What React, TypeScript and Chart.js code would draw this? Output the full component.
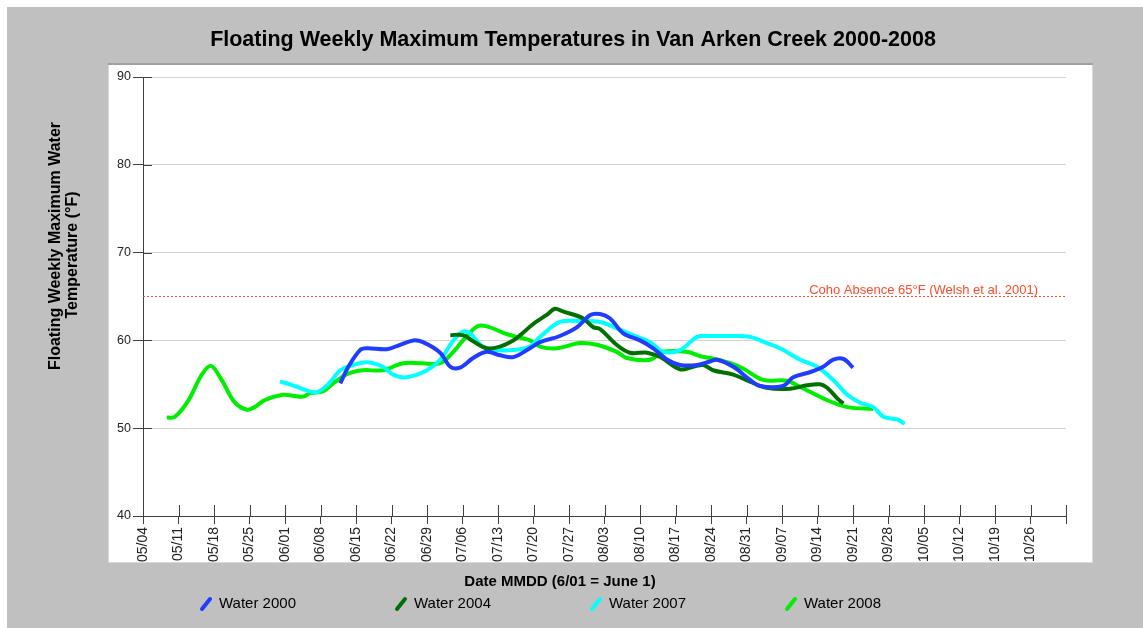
import React, { useEffect, useRef } from 'react';
import { Chart, registerables } from 'chart.js';

Chart.register(...registerables);

const W = 1143;
const H = 628;

const xTickLabels = ['05/04', '05/11', '05/18', '05/25', '06/01', '06/08', '06/15', '06/22', '06/29', '07/06', '07/13', '07/20', '07/27', '08/03', '08/10', '08/17', '08/24', '08/31', '09/07', '09/14', '09/21', '09/28', '10/05', '10/12', '10/19', '10/26'];

// x values = days after 05/04
const days2000 = [38.9, 40.5, 42.8, 44.2, 48.1, 50.7, 53.3, 55.2, 58.6, 60.6, 62.5, 65.1, 67.8, 70.4, 73, 76.3, 78.3, 82.2, 85.6, 88.2, 90.1, 92.1, 94.7, 98, 100.6, 103.4, 105.9, 109.3, 111.8, 113.2, 116.4, 119.7, 121.7, 126.2, 128.2, 131.6, 134.1, 136.1, 138.1, 140];
const temps2000 = [55.1, 57.0, 58.9, 59.1, 59.0, 59.5, 60.0, 59.8, 58.6, 57.0, 56.9, 58.0, 58.7, 58.3, 58.1, 59.1, 59.8, 60.5, 61.5, 62.9, 63.0, 62.5, 60.8, 60.0, 59.1, 57.8, 57.2, 57.2, 57.6, 57.8, 57.0, 55.5, 54.8, 54.8, 55.8, 56.4, 57.0, 57.8, 57.9, 56.9];

const days2004 = [60.6, 63.1, 65.1, 67.8, 70.4, 73, 74.4, 77, 79.6, 81.2, 82.8, 86.8, 88.8, 90.1, 93.4, 96, 99.4, 102, 105.9, 108.5, 110.5, 112.4, 116.4, 119.7, 123, 127.6, 131, 133.5, 134.9, 136.9, 138.1];
const temps2004 = [60.6, 60.6, 59.9, 59.1, 59.3, 60.0, 60.6, 61.9, 62.9, 63.6, 63.3, 62.5, 61.5, 61.3, 59.5, 58.6, 58.6, 58.1, 56.7, 57.0, 57.2, 56.6, 56.1, 55.3, 54.6, 54.5, 54.9, 55.0, 54.6, 53.4, 52.8];

const days2007 = [27, 29, 32.3, 34.3, 36.5, 38.9, 41.5, 44.2, 47.3, 49.3, 52, 56, 58.6, 61.2, 63.1, 64.5, 67, 69.8, 73, 76.3, 78.3, 82.2, 86.2, 90.1, 93.4, 96.6, 100, 102.6, 105.9, 109.3, 111.8, 116.4, 119.7, 123, 125.6, 129.6, 132.9, 136.1, 138.9, 141.4, 144, 146, 148.7, 150.2];
const temps2007 = [55.3, 55.0, 54.3, 54.1, 55.0, 56.6, 57.2, 57.5, 57.0, 56.1, 55.8, 56.6, 57.8, 60.0, 61.0, 60.8, 59.3, 58.9, 58.9, 59.3, 60.4, 62.1, 62.2, 62.1, 61.4, 60.6, 59.8, 58.7, 58.9, 60.4, 60.5, 60.5, 60.4, 59.7, 59.1, 57.8, 57.0, 55.5, 53.8, 52.9, 52.4, 51.3, 51.0, 50.5];

const days2008 = [4.7, 6.3, 9, 11.5, 13.4, 15.5, 18, 20.5, 22, 24, 27.6, 29.5, 31.6, 33, 35.5, 37.5, 40.4, 43.4, 47.3, 51.3, 55, 58.6, 61.2, 63.1, 65.9, 67.8, 71.8, 74.4, 76.3, 78.3, 81.6, 86.2, 89.5, 93.4, 95.4, 100, 102.5, 107.2, 109.9, 111.8, 115.8, 118.3, 122.3, 127, 129.6, 134.9, 138.9, 144];
const temps2008 = [51.2, 51.3, 53.2, 56.0, 57.1, 55.5, 53.0, 52.1, 52.4, 53.2, 53.8, 53.7, 53.6, 54.0, 54.2, 55.1, 56.2, 56.6, 56.6, 57.4, 57.4, 57.4, 58.7, 60.0, 61.6, 61.6, 60.7, 60.3, 60.0, 59.3, 59.1, 59.7, 59.5, 58.7, 58.0, 57.8, 58.7, 58.7, 58.2, 58.0, 57.4, 56.8, 55.5, 55.4, 54.7, 53.2, 52.4, 52.2];

const seriesLabels = ['Water 2000', 'Water 2004', 'Water 2007', 'Water 2008'];
const seriesColors = ['#1f3cff', '#007000', '#00ffff', '#00ee00'];

const threshold = 65;
const thresholdLabel = 'Coho Absence 65°F (Welsh et al. 2001)';
const xMin = 0;
const xMax = 182;

const FONT = '"Liberation Sans", Arial, sans-serif';

function pts(xs: number[], ys: number[]) {
  return xs.map((x, i) => ({ x, y: ys[i] }));
}

const decor = {
  id: 'decor',
  beforeDraw(chart: any) {
    const ctx = chart.ctx;
    ctx.save();
    ctx.fillStyle = '#ffffff';
    ctx.fillRect(0, 0, W, H);
    ctx.fillStyle = '#c0c0c0';
    ctx.fillRect(7, 7, W - 7, H - 7);
    ctx.fillStyle = '#ffffff';
    ctx.fillRect(108, 64, 985, 499);
    ctx.strokeStyle = '#d8d8d8';
    ctx.lineWidth = 1;
    ctx.strokeRect(108.5, 64.5, 984, 498);
    ctx.fillStyle = '#a0a0a0';
    ctx.fillRect(108, 63, 985, 2);
    ctx.restore();
  },
  afterDraw(chart: any) {
    const ctx = chart.ctx;
    const xs = chart.scales.x;
    const ys = chart.scales.y;
    const area = chart.chartArea;
    ctx.save();
    // inner tick marks
    ctx.strokeStyle = '#404040';
    ctx.lineWidth = 1;
    ctx.beginPath();
    ys.ticks.forEach((t: any) => {
      const py = Math.round(ys.getPixelForValue(t.value)) + 0.5;
      ctx.moveTo(area.left, py);
      ctx.lineTo(area.left + 9, py);
    });
    xs.ticks.forEach((t: any) => {
      const px = Math.round(xs.getPixelForValue(t.value)) + 0.5;
      ctx.moveTo(px, area.bottom);
      ctx.lineTo(px, area.bottom - 11);
    });
    ctx.stroke();

    // threshold label
    ctx.fillStyle = '#ff4a2a';
    ctx.font = `13px ${FONT}`;
    ctx.textAlign = 'right';
    ctx.textBaseline = 'alphabetic';
    ctx.fillText(thresholdLabel, xs.getPixelForValue(176.5), ys.getPixelForValue(threshold) - 3);

    // title
    ctx.fillStyle = '#000';
    ctx.textAlign = 'center';
    ctx.textBaseline = 'middle';
    ctx.font = `bold 21.5px ${FONT}`;
    ctx.fillText('Floating Weekly Maximum Temperatures in Van Arken Creek 2000-2008', 573, 40);

    // x title
    ctx.font = `bold 15px ${FONT}`;
    ctx.fillText('Date MMDD (6/01 = June 1)', 560, 582);

    // y title
    ctx.font = `bold 16px ${FONT}`;
    ctx.save();
    ctx.translate(56, 246);
    ctx.rotate(-Math.PI / 2);
    ctx.fillText('Floating Weekly Maximum Water', 0, 0);
    ctx.restore();
    ctx.save();
    ctx.translate(73, 255);
    ctx.rotate(-Math.PI / 2);
    ctx.fillText('Temperature (°F)', 0, 0);
    ctx.restore();

    // legend
    const legendX = [200, 395, 590, 785];
    ctx.font = `15px ${FONT}`;
    ctx.textAlign = 'left';
    chart.data.datasets.forEach((ds: any) => {
      if (!ds.isSeries) return;
      const k = seriesLabels.indexOf(ds.label);
      const lx = legendX[k];
      ctx.strokeStyle = ds.borderColor;
      ctx.lineWidth = 4;
      ctx.lineCap = 'round';
      ctx.beginPath();
      ctx.moveTo(lx + 2, 609);
      ctx.lineTo(lx + 10, 599);
      ctx.stroke();
      ctx.fillStyle = '#000';
      ctx.fillText(ds.label, lx + 19, 604);
    });
    ctx.restore();
  },
};

export default function App() {
  const ref = useRef<HTMLCanvasElement>(null);
  useEffect(() => {
    if (!ref.current) return;
    const seriesData = [pts(days2000, temps2000), pts(days2004, temps2004), pts(days2007, temps2007), pts(days2008, temps2008)];
    const chart = new Chart(ref.current, {
      type: 'line',
      data: {
        datasets: [
          {
            label: 'threshold',
            data: [{ x: xMin, y: threshold }, { x: xMax, y: threshold }],
            borderColor: '#ff4a2a',
            borderWidth: 1,
            borderDash: [2, 2],
            pointRadius: 0,
            tension: 0,
          } as any,
          ...seriesData.map((d, i) => ({
            label: seriesLabels[i],
            isSeries: true,
            data: d,
            borderColor: seriesColors[i],
            backgroundColor: seriesColors[i],
            borderWidth: 4,
            pointRadius: 0,
            tension: 0.35,
            fill: false,
          })),
        ],
      },
      options: {
        responsive: false,
        animation: false,
        events: [],
        layout: { padding: { left: 108, top: 77, right: 77, bottom: 62 } },
        plugins: { legend: { display: false }, title: { display: false }, tooltip: { enabled: false } },
        scales: {
          x: {
            type: 'linear',
            min: xMin,
            max: xMax,
            afterFit: (s: any) => { s.height = 50; },
            afterBuildTicks: (s: any) => {
              const t = [];
              for (let v = xMin; v <= xMax; v += 7) t.push({ value: v });
              s.ticks = t;
            },
            ticks: {
              stepSize: 7,
              autoSkip: false,
              minRotation: 90,
              maxRotation: 90,
              padding: 3,
              color: '#222',
              font: { family: FONT, size: 14 },
              callback: (_v: any, i: number) => xTickLabels[i] ?? '',
            },
            grid: { drawOnChartArea: false, drawTicks: true, tickLength: 8, tickColor: '#404040', color: '#404040' },
            border: { display: true, color: '#404040', width: 1 },
          },
          y: {
            type: 'linear',
            min: 40,
            max: 90,
            afterFit: (s: any) => { s.width = 35; },
            ticks: { stepSize: 10, padding: 2, color: '#222', font: { family: FONT, size: 12.5 } },
            grid: { color: '#d4d4d4', lineWidth: 1, drawTicks: true, tickLength: 10, tickColor: '#404040' },
            border: { display: true, color: '#404040', width: 1 },
          },
        },
      },
      plugins: [decor],
    } as any);
    return () => chart.destroy();
  }, []);
  return (
    <div style={{ position: 'fixed', left: 0, top: 0, width: W, height: H }}>
      <canvas ref={ref} width={W} height={H} style={{ width: W, height: H, display: 'block' }} />
    </div>
  );
}
